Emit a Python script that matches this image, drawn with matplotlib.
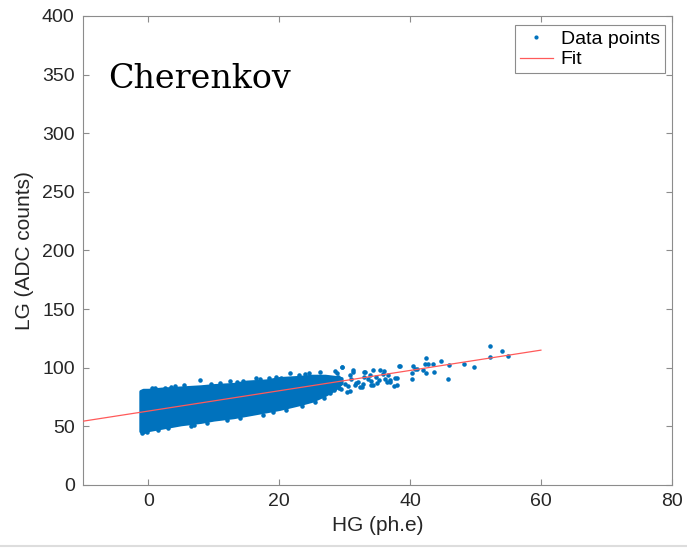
import matplotlib
matplotlib.use("Agg")
import matplotlib.pyplot as plt
from matplotlib.lines import Line2D

# dense core of the cloud (solid band)
core_x = [-1.2, -0.8, 0, 2, 5, 8, 10, 13, 15, 18, 20, 23, 25, 27, 28.5, 29.5]
core_top = [80, 81, 81, 82, 83, 84, 85, 86, 88, 89, 91, 92, 93, 93, 92, 91]
core_bottom = [46, 45, 47, 49, 52, 54, 56, 58, 60, 63, 65, 69, 72, 77, 82, 87]

# individual points around the edges and in the sparse tail
pts_x = [-0.2, 2.6, 7.9, 13.5, 17.1, 20.2, 21.7, 26.3, 28.8, 29.6, 31.3, 32.9,
         34.4, 11.5, 16.1, 22.2, 25.2, 30.3, 28.3, 32.4, 34.4, -1.0, 0.5, 4.0,
         6.5, 9.0, 24.0, 26.0, 27.5, 28.0, 29.0, 30.0, 31.0, 32.0, 33.0, 29.5,
         30.8, 31.6, 33.5, 27.0, 26.5, 28.5,
         38.3, 40.5, 40.3, 40.3, 41.0, 38.0, 38.0, 36.7, 36.9, 35.4, 34.1, 32.6,
         30.8, 29.6, 31.3, 33.1, 35.2, 36.4, 37.7, 37.6, 38.4, 40.8, 42.0, 42.3,
         42.5, 42.5, 43.6, 42.8, 43.5, 44.8, 45.8, 46.0, 48.2, 49.7, 52.2, 52.2,
         54.1, 55.0, 35.8, 34.8, 36.0, 33.8,
         1.0, 3.5, 5.5, 9.5, 11.0, 12.5, 14.5, 16.5, 18.5, 19.5, 23.0, 24.5,
         1.5, 3.0, 7.0, 12.0, 14.0, 17.5, 19.0, 21.0, 23.5, 25.5, 26.8, 27.8,
         29.2, 30.5, 31.8, 32.8, 34.0, 35.0, 36.2, 37.0]
pts_y = [45.5, 82.5, 89.6, 88.1, 90.1, 91.0, 95.8, 96.7, 95.3, 100.4, 98.1, 96.7,
         98.1, 58.3, 64.0, 71.0, 76.8, 79.6, 81.0, 83.8, 85.3, 44.0, 83.0, 84.5,
         50.0, 53.0, 94.5, 78.0, 88.0, 84.0, 92.0, 86.0, 90.0, 88.0, 92.0, 82.0,
         94.0, 85.0, 90.0, 80.0, 91.0, 97.0,
         101.5, 101.5, 95.3, 90.1, 98.7, 91.5, 85.3, 93.8, 89.6, 98.1, 85.3, 83.8,
         80.4, 100.4, 96.7, 96.7, 89.6, 88.1, 91.0, 84.4, 101.5, 98.7, 98.0, 103.2,
         108.0, 95.3, 96.1, 102.9, 102.9, 106.0, 90.1, 102.3, 103.2, 100.4, 118.5, 109.4,
         114.3, 110.0, 95.0, 92.5, 97.5, 94.0,
         82.5, 83.5, 85.0, 86.5, 87.0, 88.5, 89.0, 91.0, 91.5, 92.5, 94.0, 95.5,
         47.0, 48.5, 51.0, 55.5, 57.0, 60.0, 62.0, 64.0, 67.0, 70.5, 74.0, 78.5,
         83.0, 84.5, 87.0, 86.0, 88.5, 87.0, 90.5, 88.0]

# linear fit
fit_x = [-10, 60]
fit_y = [54.4, 115.0]

blue = "#0072BD"

plt.rcParams['font.family'] = ['Liberation Sans', 'DejaVu Sans']

fig = plt.figure(figsize=(6.87, 5.49), dpi=100)
ax = fig.add_axes([0.1208, 0.1166, 0.857, 0.8543])

ax.fill_between(core_x, core_bottom, core_top, color=blue, lw=2.5, edgecolor=blue, zorder=2)
ax.plot(pts_x, pts_y, '.', color=blue, ms=4.5, zorder=2)
ax.plot(fit_x, fit_y, color="#FF5A5A", lw=0.9, zorder=3)

ax.set_xlim(-10, 80)
ax.set_ylim(0, 400)
ax.set_xticks([0, 20, 40, 60, 80])
ax.set_yticks(range(0, 401, 50))
ax.tick_params(direction='in', length=4, top=True, right=True, labelsize=14,
               colors='#8c8c8c', labelcolor='#262626', width=0.8, pad=6)
for s in ax.spines.values():
    s.set_color('#8c8c8c')
    s.set_linewidth(0.8)

ax.set_xlabel("HG (ph.e)", fontsize=15, color='#262626', labelpad=4)
ax.set_ylabel("LG (ADC counts)", fontsize=15, color='#262626', labelpad=6)

ax.text(-6.1, 339, "Cherenkov", family='DejaVu Serif', fontsize=24, color='black')

handles = [Line2D([], [], ls='none', marker='.', color=blue, ms=4),
           Line2D([], [], color="#FF5A5A", lw=0.9)]
leg = ax.legend(handles, ["Data points", "Fit"], loc='upper right',
                bbox_to_anchor=(0.988, 0.98), borderaxespad=0, fontsize=14,
                fancybox=False, framealpha=1, handlelength=1.7,
                handletextpad=0.4, borderpad=0.25, labelspacing=0.15)
leg.get_frame().set_edgecolor('#8c8c8c')
leg.get_frame().set_linewidth(0.8)

# thin screenshot border at the bottom
fig.add_artist(Line2D([0, 1], [0.006, 0.006], color='#dddddd', lw=1.5))

fig.savefig("out.png", dpi=100)
